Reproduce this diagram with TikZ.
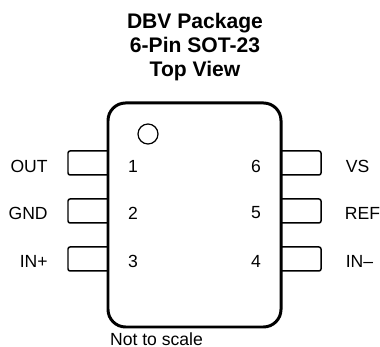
\documentclass[tikz,border=0pt]{standalone}
\usepackage{fontspec}
\setmainfont{Liberation Sans}
\usetikzlibrary{calc}
\tikzset{
	pkgbody/.style={draw, line width=1.7pt, rounded corners=10pt, minimum width=3.46cm, minimum height=4.48cm, inner sep=0pt},
	pinlead/.style={draw, line width=0.85pt, rounded corners=1.2pt},
	pinlabel/.style={font=\fontsize{10}{12}\selectfont, inner sep=0pt},
	titlelabel/.style={font=\fontsize{12}{13.9}\selectfont\bfseries, align=center, inner sep=0pt}
}

\begin{document}
\begin{tikzpicture}
	\useasboundingbox (0,0) rectangle (7.6,6.94);

	\node[titlelabel] (title) at (3.90,6.00) {DBV Package\\6-Pin SOT-23\\Top View};

	% leads go first, the body covers their inner ends
	\draw[pinlead] (2.16,3.92) -- (1.36,3.92) -- (1.36,3.44) -- (2.16,3.44);
	\draw[pinlead] (2.16,2.96) -- (1.36,2.96) -- (1.36,2.48) -- (2.16,2.48);
	\draw[pinlead] (2.16,2.00) -- (1.36,2.00) -- (1.36,1.52) -- (2.16,1.52);

	\draw[pinlead] (5.62,3.92) -- (6.42,3.92) -- (6.42,3.44) -- (5.62,3.44);
	\draw[pinlead] (5.62,2.96) -- (6.42,2.96) -- (6.42,2.48) -- (5.62,2.48);
	\draw[pinlead] (5.62,2.00) -- (6.42,2.00) -- (6.42,1.52) -- (5.62,1.52);

	\node[pkgbody] (body) at (3.89,2.64) {};
	\draw[line width=0.7pt] (2.96,4.26) circle (0.2);

	\node[pinlabel, anchor=east] (out) at (0.96,3.62) {OUT};
	\node[pinlabel, anchor=east] (gnd) at (0.96,2.68) {GND};
	\node[pinlabel, anchor=east] (inp) at (0.96,1.72) {IN+};

	\node[pinlabel, anchor=west] (vs) at (6.91,3.62) {VS};
	\node[pinlabel, anchor=west] (ref) at (6.89,2.68) {REF};
	\node[pinlabel, anchor=west] (inm) at (6.91,1.72) {IN–};

	\node[pinlabel] (one) at (2.66,3.62) {1};
	\node[pinlabel] (two) at (2.66,2.68) {2};
	\node[pinlabel] (three) at (2.66,1.72) {3};

	\node[pinlabel] (six) at (5.12,3.62) {6};
	\node[pinlabel] (five) at (5.12,2.68) {5};
	\node[pinlabel] (four) at (5.12,1.72) {4};

	\node[pinlabel] (scale) at (3.13,0.16) {Not to scale};
\end{tikzpicture}
\end{document}
